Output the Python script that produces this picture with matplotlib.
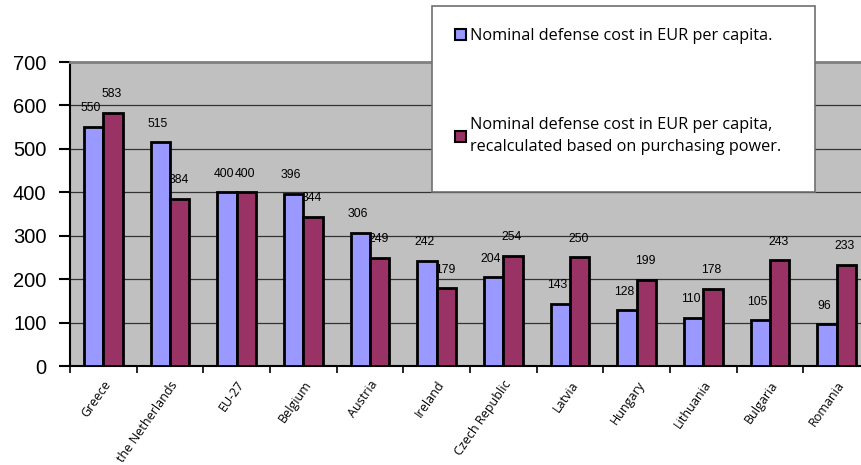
import matplotlib
matplotlib.use("Agg")
import matplotlib.pyplot as plt
import numpy as np
from matplotlib.patches import Rectangle, Patch

categories = ["Greece", "the Netherlands", "EU-27", "Belgium", "Austria", "Ireland",
              "Czech Republic", "Latvia", "Hungary", "Lithuania", "Bulgaria", "Romania"]
nominal = [550, 515, 400, 396, 306, 242, 204, 143, 128, 110, 105, 96]
ppp = [583, 384, 400, 344, 249, 179, 254, 250, 199, 178, 243, 233]
series_labels = ["Nominal defense cost in EUR per capita.",
                 "Nominal defense cost in EUR per capita,\nrecalculated based on purchasing power."]
yticks = [0, 100, 200, 300, 400, 500, 600, 700]

blue = "#9999FF"
red = "#993366"

W, H = 862, 465
fig = plt.figure(figsize=(W / 100, H / 100), dpi=100)
fig.patch.set_facecolor("white")

ax = fig.add_axes([70 / W, (H - 366) / H, 800 / W, 304 / H])
ax.set_facecolor("#C0C0C0")

x = np.arange(len(categories))
bw = 0.29
ax.bar(x - bw / 2, nominal, bw, color=blue, edgecolor="black", linewidth=2, zorder=3)
ax.bar(x + bw / 2, ppp, bw, color=red, edgecolor="black", linewidth=2, zorder=3)

for xi, v in zip(x - bw / 2, nominal):
    ax.annotate(str(v), (xi, v), xytext=(-2, 13.5), textcoords="offset points",
                ha="center", va="center", fontsize=8.8, family="Liberation Sans", zorder=5)
for xi, v in zip(x + bw / 2, ppp):
    ax.annotate(str(v), (xi, v), xytext=(-1, 13.5), textcoords="offset points",
                ha="center", va="center", fontsize=8.8, family="Liberation Sans", zorder=5)

ax.set_xlim(-0.5, len(categories) - 0.5)
ax.set_ylim(0, 700)
ax.set_yticks(yticks)
ax.set_yticklabels([str(t) for t in yticks], fontsize=14.5, family="Liberation Sans")
ax.yaxis.grid(True, color="#333333", linewidth=0.9, zorder=0)
ax.set_axisbelow(True)

ax.set_xticks(x)
ax.set_xticklabels(categories, rotation=55, ha="right", rotation_mode="anchor",
                   fontsize=9, family="Open Sans")
ax.tick_params(axis="x", which="major", length=0, pad=9)
ax.set_xticks(np.arange(-0.5, len(categories)), minor=True)
ax.tick_params(axis="x", which="minor", length=5, width=1.2, color="black")
ax.tick_params(axis="y", length=8, width=1.5, pad=9)

for s in ["left", "bottom"]:
    ax.spines[s].set_color("black")
    ax.spines[s].set_linewidth(1.5)
ax.spines["top"].set_color("#808080")
ax.spines["top"].set_linewidth(2)
ax.spines["right"].set_visible(False)

# legend box
fig.patches.append(Rectangle((432 / W, 1 - 192 / H), 383 / W, 186 / H,
                             transform=fig.transFigure, facecolor="white",
                             edgecolor="#707070", linewidth=1.2, zorder=10))
handles = [Patch(facecolor=blue, edgecolor="black", linewidth=1.5),
           Patch(facecolor=red, edgecolor="black", linewidth=1.5)]
leg = fig.legend(handles, series_labels, loc="upper left",
                 bbox_to_anchor=(455 / W, 1 - 28 / H), frameon=False,
                 prop={"family": "Open Sans", "size": 11.7},
                 handlelength=0.65, handleheight=0.65, handletextpad=0.25,
                 labelspacing=4.5, borderpad=0, borderaxespad=0)
for t in leg.get_texts():
    t.set_linespacing(1.45)
leg.set_zorder(11)

fig.savefig("out.png", dpi=100)
